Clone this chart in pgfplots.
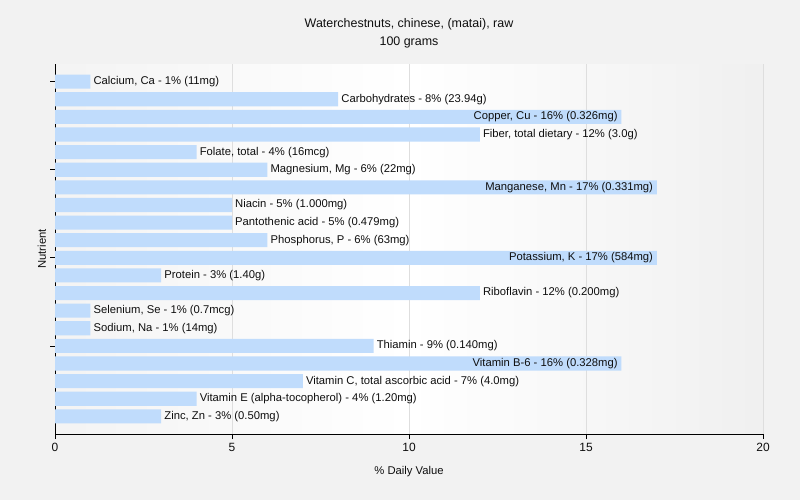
\documentclass[border=0pt]{standalone}
\usepackage{fontspec}
\setmainfont{Liberation Sans}
\usepackage{pgfplots}
\usepackage{pgfplotstable}
\pgfplotsset{compat=1.18}
\definecolor{barblue}{RGB}{192,220,252}
\definecolor{bg}{RGB}{242,242,242}
\definecolor{gridc}{RGB}{222,222,222}
\definecolor{txt}{RGB}{15,15,15}

\pgfplotstableread[col sep=semicolon]{
v;i;label
1;0;Calcium, Ca - 1\% (11mg)
8;1;Carbohydrates - 8\% (23.94g)
12;3;Fiber, total dietary - 12\% (3.0g)
4;4;Folate, total - 4\% (16mcg)
6;5;Magnesium, Mg - 6\% (22mg)
5;7;Niacin - 5\% (1.000mg)
5;8;Pantothenic acid - 5\% (0.479mg)
6;9;Phosphorus, P - 6\% (63mg)
3;11;Protein - 3\% (1.40g)
12;12;Riboflavin - 12\% (0.200mg)
1;13;Selenium, Se - 1\% (0.7mcg)
1;14;Sodium, Na - 1\% (14mg)
9;15;Thiamin - 9\% (0.140mg)
7;17;Vitamin C, total ascorbic acid - 7\% (4.0mg)
4;18;Vitamin E (alpha-tocopherol) - 4\% (1.20mg)
3;19;Zinc, Zn - 3\% (0.50mg)
}\outside

\pgfplotstableread[col sep=semicolon]{
v;i;label
16;2;Copper, Cu - 16\% (0.326mg)
17;6;Manganese, Mn - 17\% (0.331mg)
17;10;Potassium, K - 17\% (584mg)
16;16;Vitamin B-6 - 16\% (0.328mg)
}\inside

\begin{document}
\begin{tikzpicture}
\fill[bg] (0,0) rectangle (800bp,500bp);
\path[use as bounding box] (0,0) rectangle (800bp,500bp);
\begin{axis}[
  at={(55bp,66bp)}, anchor=south west,
  scale only axis, width=708bp, height=370bp,
  xmin=0, xmax=20, ymin=-1, ymax=20, y dir=reverse,
  axis x line*=bottom, axis y line*=left,
  axis line style={black, line width=0.8bp},
  xtick={0,5,10,15,20}, ytick={0,5,10,15}, yticklabels={},
  tick align=outside, major tick length=5bp,
  tick style={black, line width=0.8bp},
  xmajorgrids, grid style={gridc, line width=0.8bp},
  axis background/.style={left color=gray!9, right color=gray!12, middle color=white},
  clip=false,
  /pgf/number format/assume math mode=true,
  ticklabel style={font=\fontsize{12}{14}\selectfont, text=txt},
  xticklabel style={yshift=-1bp},
  xlabel={\% Daily Value},
  ylabel={Nutrient},
  label style={font=\fontsize{11.3}{13}\selectfont, text=txt},
  xlabel style={at={(axis description cs:0.5,0)}, anchor=center, yshift=-38bp},
  ylabel style={at={(axis description cs:-0.0184,0.5)}, anchor=center},
  title={Waterchestnuts, chinese, (matai), raw\\100 grams},
  title style={align=center, font=\fontsize{12.5}{18}\selectfont, text=txt,
    at={(axis description cs:0.5,1)}, anchor=center, yshift=25bp},
]
\addplot[xbar, bar width=0.8, bar shift=0pt, fill=barblue, draw=none,
  point meta=explicit symbolic, nodes near coords, nodes near coords align={horizontal},
  every node near coord/.append style={font=\fontsize{11.3}{13}\selectfont, text=txt, inner sep=3bp, anchor=west}]
  table[x=v, y=i, meta=label]{\outside};
\addplot[xbar, bar width=0.8, bar shift=0pt, fill=barblue, draw=none,
  point meta=explicit symbolic, nodes near coords align={horizontal},
  nodes near coords={\makebox[0pt][r]{\pgfplotspointmeta}},
  every node near coord/.append style={font=\fontsize{11.3}{13}\selectfont, text=txt, inner sep=3bp, anchor=west, xshift=-7bp}]
  table[x=v, y=i, meta=label]{\inside};
\end{axis}
\end{tikzpicture}
\end{document}
